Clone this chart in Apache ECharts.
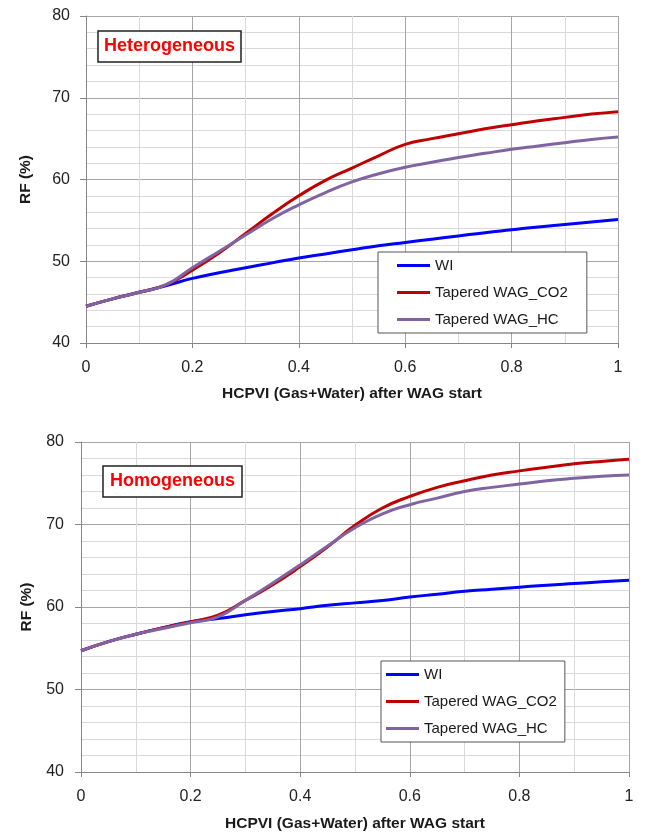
<!DOCTYPE html>
<html>
<head>
<meta charset="utf-8">
<script src="https://cdn.jsdelivr.net/npm/echarts@6/dist/echarts.min.js"></script>
<style>
html,body{margin:0;padding:0;background:#fff;}
#c{width:646px;height:833px;}
</style>
</head>
<body>
<div id="c"></div>
<script>
// Shared x values (HCPVI)
var xVals = [0, 0.05, 0.1, 0.15, 0.2, 0.25, 0.3, 0.35, 0.4, 0.45, 0.5, 0.55, 0.6, 0.65, 0.7, 0.75, 0.8, 0.85, 0.9, 0.95, 1.0];
var xTicks = ['0', '0.2', '0.4', '0.6', '0.8', '1'];
var yTicks = ['40', '50', '60', '70', '80'];
var seriesNames = ['WI', 'Tapered WAG_CO2', 'Tapered WAG_HC'];
var panelTitles = ['Heterogeneous', 'Homogeneous'];

// Heterogeneous (top)
var wiHet  = [44.5, 45.4, 46.2, 47.0, 47.9, 48.6, 49.2, 49.8, 50.4, 50.9, 51.4, 51.9, 52.3, 52.7, 53.1, 53.5, 53.85, 54.2, 54.5, 54.8, 55.1];
var co2Het = [44.5, 45.4, 46.2, 47.1, 48.9, 51.0, 53.4, 55.8, 58.0, 59.9, 61.4, 62.9, 64.3, 65.0, 65.6, 66.2, 66.7, 67.2, 67.6, 68.0, 68.3];
var hcHet  = [44.5, 45.4, 46.2, 47.1, 49.2, 51.2, 53.2, 55.2, 56.9, 58.4, 59.7, 60.7, 61.5, 62.1, 62.7, 63.2, 63.7, 64.1, 64.5, 64.9, 65.2];

// Homogeneous (bottom)
var wiHom  = [54.7, 55.8, 56.7, 57.5, 58.2, 58.6, 59.05, 59.45, 59.8, 60.2, 60.5, 60.8, 61.2, 61.55, 61.9, 62.15, 62.4, 62.65, 62.85, 63.05, 63.25];
var co2Hom = [54.7, 55.8, 56.7, 57.5, 58.2, 59.0, 60.8, 62.7, 64.9, 67.3, 69.9, 72.0, 73.4, 74.5, 75.3, 76.0, 76.5, 76.95, 77.35, 77.65, 77.9];
var hcHom  = [54.7, 55.8, 56.7, 57.4, 58.1, 58.8, 60.8, 62.9, 65.1, 67.4, 69.6, 71.3, 72.4, 73.2, 74.0, 74.5, 74.9, 75.3, 75.6, 75.85, 76.0];

var colors = ['#0000ff', '#c00000', '#8064a2'];
var FONT = '"Liberation Sans", Arial, sans-serif';

function pairs(ys){ return xVals.map(function(x,i){ return [x, ys[i]]; }); }

function xAxisDef(idx, nameGap){
  return {
    type:'value', gridIndex:idx, min:0, max:1, interval:0.2,
    name:'HCPVI (Gas+Water) after WAG start', nameLocation:'middle', nameGap:nameGap,
    nameTextStyle:{fontFamily:FONT, fontSize:15.5, fontWeight:'bold', color:'#1a1a1a'},
    axisLine:{show:true, lineStyle:{color:'#868686', width:1}},
    axisTick:{show:true, length:5, lineStyle:{color:'#868686'}},
    axisLabel:{fontFamily:FONT, fontSize:16, color:'#222', margin:17,
      formatter:function(v){ return xTicks[Math.round(v/0.2)]; }},
    splitLine:{show:true, lineStyle:{color:'#a6a6a6', width:1}},
    minorTick:{show:false, splitNumber:2},
    minorSplitLine:{show:true, lineStyle:{color:'#d9d9d9', width:1}}
  };
}
function yAxisDef(idx, gap, margin){
  return {
    type:'value', gridIndex:idx, min:40, max:80, interval:10,
    name:'RF (%)', nameLocation:'middle', nameGap:gap, nameRotate:90,
    nameTextStyle:{fontFamily:FONT, fontSize:15.5, fontWeight:'bold', color:'#1a1a1a'},
    axisLine:{show:true, lineStyle:{color:'#868686', width:1}},
    axisTick:{show:true, length:6, lineStyle:{color:'#868686'}},
    axisLabel:{fontFamily:FONT, fontSize:16, color:'#222', margin:margin,
      formatter:function(v){ return yTicks[Math.round((v-40)/10)]; }},
    splitLine:{show:true, lineStyle:{color:'#a6a6a6', width:1}},
    minorTick:{show:false, splitNumber:5},
    minorSplitLine:{show:true, lineStyle:{color:'#d9d9d9', width:1}}
  };
}
function lineSeries(name, data, idx, color){
  return {
    type:'line', name:name, xAxisIndex:idx, yAxisIndex:idx,
    data:pairs(data), smooth:true, symbol:'none', showSymbol:false,
    lineStyle:{color:color, width:3}, itemStyle:{color:color},
    animation:false, z:3
  };
}
function legendDef(left, top, padding){
  return {
    orient:'vertical', left:left, top:top, padding:padding,
    itemWidth:33, itemHeight:14, itemGap:12,
    backgroundColor:'#fff', borderColor:'#555', borderWidth:1,
    textStyle:{fontFamily:FONT, fontSize:15, color:'#1a1a1a'},
    data:seriesNames.map(function(n){ return {name:n, icon:'path://M0,0 L33,0 L33,3 L0,3 Z'}; })
  };
}
function titleDef(text, left, top, padding){
  return {
    text:text, left:left, top:top, padding:padding,
    borderColor:'#222', borderWidth:1.5, backgroundColor:'#fff',
    textStyle:{fontFamily:FONT, fontSize:18, fontWeight:'bold', color:'#ff0000', lineHeight:19}
  };
}

var chart = echarts.init(document.getElementById('c'), null, {renderer:'canvas'});
chart.setOption({
  animation:false,
  backgroundColor:'#fff',
  title:[
    titleDef(panelTitles[0], 98, 31, [6,6,6,6]),
    titleDef(panelTitles[1], 103, 466, [6,7,6,7])
  ],
  legend:[
    legendDef(378, 252, [6,19,6,19]),
    legendDef(381, 661, [6,8,6,5])
  ],
  grid:[
    {left:86, top:16, width:532, height:327, show:false},
    {left:81, top:442, width:548, height:332, show:false}
  ],
  xAxis:[xAxisDef(0, 43), xAxisDef(1, 44)],
  yAxis:[yAxisDef(0, 52, 16), yAxisDef(1, 46, 17)],
  series:[
    lineSeries(seriesNames[0], wiHet, 0, colors[0]),
    lineSeries(seriesNames[1], co2Het, 0, colors[1]),
    lineSeries(seriesNames[2], hcHet, 0, colors[2]),
    lineSeries(seriesNames[0], wiHom, 1, colors[0]),
    lineSeries(seriesNames[1], co2Hom, 1, colors[1]),
    lineSeries(seriesNames[2], hcHom, 1, colors[2])
  ]
});
</script>
</body>
</html>
